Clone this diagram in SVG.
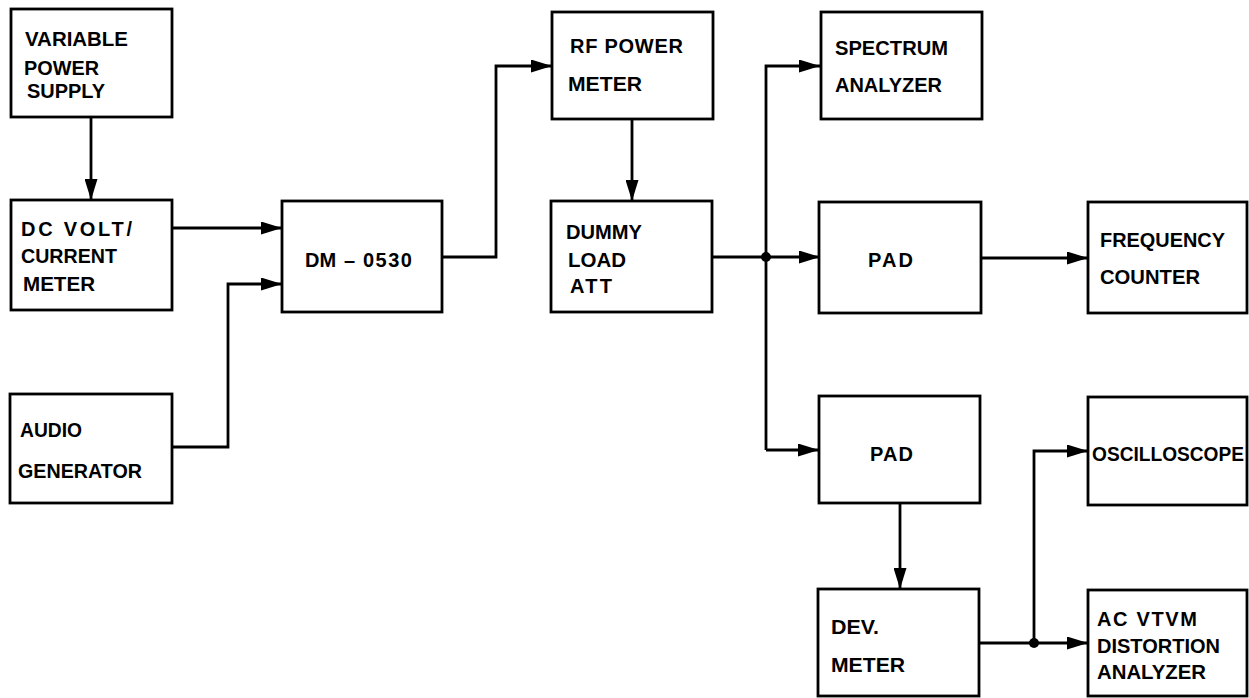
<svg xmlns="http://www.w3.org/2000/svg" width="1249" height="698" viewBox="0 0 1249 698">
<style>
.box{fill:#fff;stroke:#000;stroke-width:2.8}
.ln{fill:none;stroke:#000;stroke-width:2.8}
text{font-family:"Liberation Sans",Arial,sans-serif;font-weight:bold;font-size:20px;fill:#000}
</style>
<defs>
<marker id="ah" viewBox="0 0 21 13" refX="21" refY="6.5" markerWidth="21" markerHeight="13" markerUnits="userSpaceOnUse" orient="auto">
<path d="M0,0 L21,6.5 L0,13 Z" fill="#000"/>
</marker>
</defs>
<rect width="1249" height="698" fill="#fff"/>
<g id="connectors">
<path class="ln" d="M91,117 V200" marker-end="url(#ah)"/>
<path class="ln" d="M172,228 H282" marker-end="url(#ah)"/>
<path class="ln" d="M172,447 H228 V284 H282" marker-end="url(#ah)"/>
<path class="ln" d="M442,257 H496 V66 H552" marker-end="url(#ah)"/>
<path class="ln" d="M632,119 V201" marker-end="url(#ah)"/>
<path class="ln" d="M712,257 H820" marker-end="url(#ah)"/>
<path class="ln" d="M766,450 V66 H820" marker-end="url(#ah)"/>
<path class="ln" d="M766,450 H819" marker-end="url(#ah)"/>
<circle cx="766" cy="257" r="5" fill="#000"/>
<path class="ln" d="M981,258 H1088" marker-end="url(#ah)"/>
<path class="ln" d="M900,503 V589" marker-end="url(#ah)"/>
<path class="ln" d="M979,643 H1088" marker-end="url(#ah)"/>
<path class="ln" d="M1034,643 V451 H1088" marker-end="url(#ah)"/>
<circle cx="1034" cy="643" r="5" fill="#000"/>
</g>
<g id="variable-power-supply">
<rect class="box" x="11" y="9" width="161" height="108"/>
<text x="25" y="46" textLength="103" lengthAdjust="spacingAndGlyphs">VARIABLE</text>
<text x="24" y="75" textLength="75" lengthAdjust="spacingAndGlyphs">POWER</text>
<text x="27" y="98" textLength="78" lengthAdjust="spacingAndGlyphs">SUPPLY</text>
</g>
<g id="dc-volt-current-meter">
<rect class="box" x="11" y="200" width="161" height="110"/>
<text x="21" y="236" textLength="111">DC VOLT/</text>
<text x="21" y="263" textLength="96" lengthAdjust="spacingAndGlyphs">CURRENT</text>
<text x="23" y="291" textLength="72" lengthAdjust="spacingAndGlyphs">METER</text>
</g>
<g id="audio-generator">
<rect class="box" x="10" y="394" width="162" height="109"/>
<text x="20" y="437" textLength="62" lengthAdjust="spacingAndGlyphs">AUDIO</text>
<text x="18" y="478" textLength="124" lengthAdjust="spacingAndGlyphs">GENERATOR</text>
</g>
<g id="dm-0530">
<rect class="box" x="282" y="201" width="160" height="111"/>
<text y="267"><tspan x="305">DM</tspan><tspan x="344">–</tspan><tspan x="363" letter-spacing="1.5">0530</tspan></text>
</g>
<g id="rf-power-meter">
<rect class="box" x="552" y="12" width="161" height="107"/>
<text x="570" y="53" textLength="113">RF POWER</text>
<text x="568" y="91" textLength="74" lengthAdjust="spacingAndGlyphs">METER</text>
</g>
<g id="dummy-load-att">
<rect class="box" x="551" y="201" width="161" height="111"/>
<text x="566" y="239" textLength="76" lengthAdjust="spacingAndGlyphs">DUMMY</text>
<text x="568" y="267" textLength="58" lengthAdjust="spacingAndGlyphs">LOAD</text>
<text x="570" y="293" textLength="42">ATT</text>
</g>
<g id="spectrum-analyzer">
<rect class="box" x="821" y="12" width="161" height="107"/>
<text x="835" y="55" textLength="113" lengthAdjust="spacingAndGlyphs">SPECTRUM</text>
<text x="835" y="92" textLength="107" lengthAdjust="spacingAndGlyphs">ANALYZER</text>
</g>
<g id="pad-1">
<rect class="box" x="819" y="202" width="162" height="111"/>
<text x="868" y="267" textLength="45">PAD</text>
</g>
<g id="frequency-counter">
<rect class="box" x="1088" y="202" width="159" height="111"/>
<text x="1100" y="247" textLength="125" lengthAdjust="spacingAndGlyphs">FREQUENCY</text>
<text x="1100" y="284" textLength="100" lengthAdjust="spacingAndGlyphs">COUNTER</text>
</g>
<g id="pad-2">
<rect class="box" x="819" y="396" width="161" height="107"/>
<text x="870" y="461" textLength="43">PAD</text>
</g>
<g id="oscilloscope">
<rect class="box" x="1088" y="397" width="159" height="108"/>
<text x="1092" y="461" textLength="152" lengthAdjust="spacingAndGlyphs">OSCILLOSCOPE</text>
</g>
<g id="dev-meter">
<rect class="box" x="818" y="589" width="161" height="107"/>
<text x="831" y="634" textLength="48" lengthAdjust="spacingAndGlyphs">DEV.</text>
<text x="831" y="672" textLength="74" lengthAdjust="spacingAndGlyphs">METER</text>
</g>
<g id="ac-vtvm-distortion-analyzer">
<rect class="box" x="1088" y="590" width="159" height="106"/>
<text x="1097" y="626" textLength="100">AC VTVM</text>
<text x="1097" y="653" textLength="123" lengthAdjust="spacingAndGlyphs">DISTORTION</text>
<text x="1097" y="679" textLength="109" lengthAdjust="spacingAndGlyphs">ANALYZER</text>
</g>
</svg>
